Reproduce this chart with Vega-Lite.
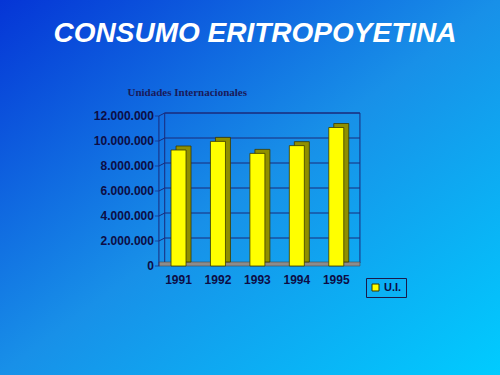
{
  "$schema": "https://vega.github.io/schema/vega-lite/v6.json",
  "width": 500,
  "height": 375,
  "autosize": {"type": "none"},
  "padding": 0,
  "background": "#1088e6",
  "title": {
    "text": "CONSUMO ERITROPOYETINA",
    "font": "Liberation Sans",
    "fontSize": 28,
    "fontWeight": "bold",
    "fontStyle": "italic",
    "color": "#ffffff",
    "anchor": "middle",
    "baseline": "middle",
    "offset": -62,
    "dx": 5
  },
  "datasets": {
    "consumo": [
      {"year": 1991, "ui": 9280000},
      {"year": 1992, "ui": 9970000},
      {"year": 1993, "ui": 9010000},
      {"year": 1994, "ui": 9630000},
      {"year": 1995, "ui": 11080000}
    ],
    "grid": [
      {"ui": 0},
      {"ui": 2000000},
      {"ui": 4000000},
      {"ui": 6000000},
      {"ui": 8000000},
      {"ui": 10000000},
      {"ui": 12000000}
    ],
    "ytitle": [{"label": "Unidades Internacionales"}]
  },
  "layer": [
    {
      "data": {"values": [{}]},
      "mark": {"type": "rect", "filled": false, "stroke": "#1a2a7a", "strokeWidth": 1, "yOffset": -3, "y2Offset": -3},
      "encoding": {
        "x": {"datum": 1990.65, "type": "quantitative", "scale": {"domain": [1986.6, 1999.025], "nice": false, "zero": false}, "axis": null},
        "x2": {"datum": 1995.6},
        "y": {"datum": 0, "type": "quantitative", "scale": {"domain": [-8720000, 21280000], "nice": false, "zero": false}, "axis": null},
        "y2": {"datum": 12000000}
      }
    },
    {
      "data": {"name": "grid"},
      "mark": {"type": "rule", "stroke": "#1a2a7a", "strokeWidth": 1, "yOffset": -3},
      "encoding": {
        "x": {"datum": 1990.65, "type": "quantitative", "scale": {"domain": [1986.6, 1999.025], "nice": false, "zero": false}, "axis": null},
        "x2": {"datum": 1995.6},
        "y": {"field": "ui", "type": "quantitative", "scale": {"domain": [-8720000, 21280000], "nice": false, "zero": false}, "axis": null}
      }
    },
    {
      "data": {"name": "grid"},
      "mark": {"type": "rule", "stroke": "#1a2a7a", "strokeWidth": 1, "y2Offset": -3},
      "encoding": {
        "x": {"datum": 1990.503, "type": "quantitative", "scale": {"domain": [1986.6, 1999.025], "nice": false, "zero": false}, "axis": null},
        "x2": {"datum": 1990.65},
        "y": {"field": "ui", "type": "quantitative", "scale": {"domain": [-8720000, 21280000], "nice": false, "zero": false}, "axis": null},
        "y2": {"field": "ui"}
      }
    },
    {
      "data": {"values": [{}]},
      "mark": {"type": "rect", "fill": "#8c8c8c", "stroke": "#4a4a4a", "strokeWidth": 0.6, "y2Offset": -4},
      "encoding": {
        "x": {"datum": 1990.503, "type": "quantitative", "scale": {"domain": [1986.6, 1999.025], "nice": false, "zero": false}, "axis": null},
        "x2": {"datum": 1995.6},
        "y": {"datum": 0, "type": "quantitative", "scale": {"domain": [-8720000, 21280000], "nice": false, "zero": false}, "axis": null},
        "y2": {"datum": 0}
      }
    },
    {
      "data": {"values": [{}]},
      "mark": {"type": "rule", "stroke": "#1a2a7a", "strokeWidth": 1},
      "encoding": {
        "x": {"datum": 1990.503, "type": "quantitative", "scale": {"domain": [1986.6, 1999.025], "nice": false, "zero": false}, "axis": null},
        "y": {"datum": 0, "type": "quantitative", "scale": {"domain": [-8720000, 21280000], "nice": false, "zero": false}, "axis": null},
        "y2": {"datum": 12000000}
      }
    },
    {
      "data": {"name": "grid"},
      "mark": {"type": "tick", "orient": "horizontal", "size": 4, "thickness": 1, "xOffset": -2, "color": "#1a2a7a"},
      "encoding": {
        "x": {"datum": 1990.503, "type": "quantitative", "scale": {"domain": [1986.6, 1999.025], "nice": false, "zero": false}, "axis": null},
        "y": {"field": "ui", "type": "quantitative", "scale": {"domain": [-8720000, 21280000], "nice": false, "zero": false}, "axis": null}
      }
    },
    {
      "data": {"name": "grid"},
      "mark": {"type": "text", "align": "right", "baseline": "middle", "dx": -5, "font": "Liberation Sans", "fontSize": 12, "fontWeight": "bold", "color": "#0d0d45"},
      "encoding": {
        "x": {"datum": 1990.503, "type": "quantitative", "scale": {"domain": [1986.6, 1999.025], "nice": false, "zero": false}, "axis": null},
        "y": {"field": "ui", "type": "quantitative", "scale": {"domain": [-8720000, 21280000], "nice": false, "zero": false}, "axis": null},
        "text": {"field": "ui", "type": "quantitative", "format": ",d"}
      }
    },
    {
      "data": {"name": "consumo"},
      "mark": {"type": "text", "align": "center", "baseline": "top", "dy": 9, "font": "Liberation Sans", "fontSize": 12, "fontWeight": "bold", "color": "#0d0d45"},
      "encoding": {
        "x": {"field": "year", "type": "quantitative", "scale": {"domain": [1986.6, 1999.025], "nice": false, "zero": false}, "axis": null},
        "y": {"datum": 0, "type": "quantitative", "scale": {"domain": [-8720000, 21280000], "nice": false, "zero": false}, "axis": null},
        "text": {"field": "year", "type": "quantitative", "format": "d"}
      }
    },
    {
      "data": {"name": "ytitle"},
      "mark": {"type": "text", "align": "left", "baseline": "middle", "font": "Liberation Serif", "fontSize": 11, "fontWeight": "bold", "color": "#1a1a5a"},
      "encoding": {
        "x": {"datum": 1989.706, "type": "quantitative", "scale": {"domain": [1986.6, 1999.025], "nice": false, "zero": false}, "axis": null},
        "y": {"datum": 13840000, "type": "quantitative", "scale": {"domain": [-8720000, 21280000], "nice": false, "zero": false}, "axis": null},
        "text": {"field": "label", "type": "nominal"}
      }
    },
    {
      "data": {"name": "consumo"},
      "mark": {"type": "bar", "size": 15, "xOffset": 5, "yOffset": -4, "y2Offset": -4, "color": "#8f8f00", "stroke": "#3a3a00", "strokeWidth": 0.8},
      "encoding": {
        "x": {"field": "year", "type": "quantitative", "scale": {"domain": [1986.6, 1999.025], "nice": false, "zero": false}, "axis": null},
        "y": {"field": "ui", "type": "quantitative", "scale": {"domain": [-8720000, 21280000], "nice": false, "zero": false}, "axis": null}
      }
    },
    {
      "data": {"name": "consumo"},
      "mark": {"type": "bar", "size": 15, "stroke": "#3a3a00", "strokeWidth": 0.8},
      "encoding": {
        "x": {"field": "year", "type": "quantitative", "scale": {"domain": [1986.6, 1999.025], "nice": false, "zero": false}, "axis": null},
        "y": {"field": "ui", "type": "quantitative", "scale": {"domain": [-8720000, 21280000], "nice": false, "zero": false}, "axis": null},
        "color": {
          "datum": "U.I.", "type": "nominal",
          "scale": {"range": ["#ffff00"]},
          "legend": {
            "orient": "none", "legendX": 366, "legendY": 278, "title": null, "padding": 4,
            "strokeColor": "#1a1a4a", "symbolType": "square", "symbolSize": 49,
            "symbolStrokeColor": "#3a3a00", "symbolStrokeWidth": 1,
            "labelFont": "Liberation Sans", "labelFontSize": 11, "labelFontWeight": "bold", "labelColor": "#0d0d45", "labelOffset": 3
          }
        }
      }
    }
  ],
  "config": {
    "locale": {"number": {"decimal": ",", "thousands": ".", "grouping": [3], "currency": ["", " €"]}},
    "view": {
      "stroke": null,
      "fill": {
        "gradient": "linear", "x1": 0, "y1": 0, "x2": 1, "y2": 1,
        "stops": [
          {"offset": 0, "color": "#0535d6"},
          {"offset": 0.5, "color": "#1890e8"},
          {"offset": 1, "color": "#00ccff"}
        ]
      }
    }
  }
}
